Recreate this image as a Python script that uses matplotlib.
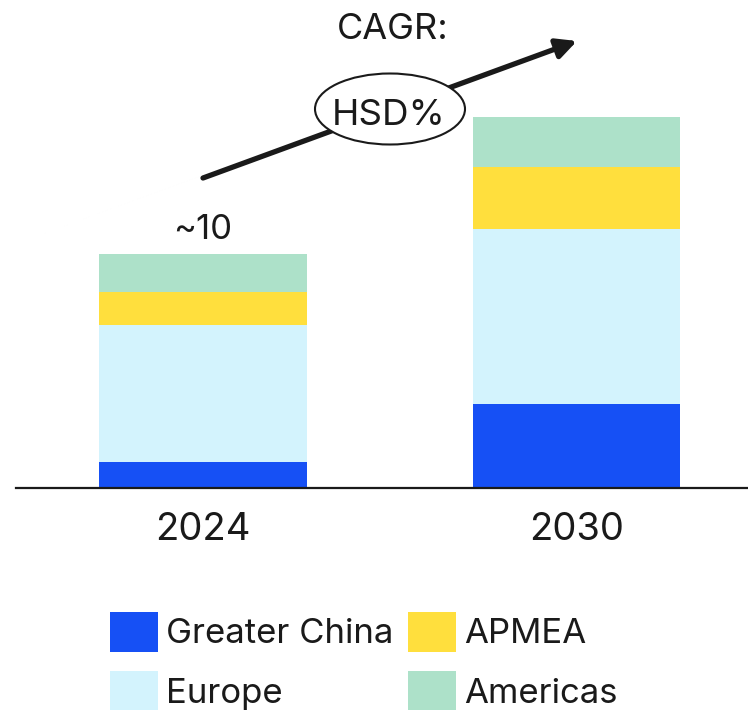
import matplotlib
matplotlib.use("Agg")
import matplotlib.pyplot as plt
from matplotlib.patches import Ellipse, Patch

plt.rcParams['font.family'] = ['Inter', 'DejaVu Sans']

years = ['2024', '2030']
regions = ['Greater China', 'Europe', 'APMEA', 'Americas']
greater_china = [1.11, 3.57]
europe = [5.85, 7.50]
apmea = [1.43, 2.67]
americas = [1.61, 2.11]
total_label = '~10'
cagr_label = 'HSD%'

colors = ['#1650f5', '#d3f3fd', '#ffdf3d', '#ade1c9']
ink = '#1a1a1a'

W, H = 748, 710
fig = plt.figure(figsize=(W / 100, H / 100), dpi=100)
ax = fig.add_axes([0, 0, 1, 1])


def px(x, y):
    # pixel (from top-left) to figure fraction
    return x / W, 1 - y / H


series = [greater_china, europe, apmea, americas]
xs = [0, 1]
bottom = [0.0, 0.0]
handles = []
for name, vals, c in zip(regions, series, colors):
    ax.bar(xs, vals, width=0.556, bottom=bottom, color=c, linewidth=0)
    bottom = [b + v for b, v in zip(bottom, vals)]
    handles.append(Patch(facecolor=c, edgecolor='none', label=name))

# axis scale: bar centres at 203px and 576.5px, baseline at 487.7px
ax.set_xlim(-0.5435, 1.459)
ax.set_ylim(-9.51, 20.87)
ax.axis('off')
ax.axhline(0, xmin=16 / W, xmax=1, color=ink, lw=1.6)

for x, yr in zip(xs, years):
    ax.text(x, -2.24, yr, ha='center', va='baseline', fontsize=27.5, color=ink)
ax.text(xs[0], bottom[0] + 0.63, total_label, ha='center', va='baseline',
        fontsize=25, color=ink)

# CAGR arrow
ax.annotate('', xy=px(577, 41), xytext=px(203, 178), xycoords='figure fraction',
            textcoords='figure fraction',
            arrowprops=dict(arrowstyle='-|>,head_length=1.2,head_width=0.6',
                            color=ink, lw=3.8, shrinkA=0, shrinkB=0))
ell = Ellipse(px(390, 109), 150 / W, 71 / H, transform=fig.transFigure,
              facecolor='white', edgecolor=ink, lw=1.5, zorder=5)
fig.patches.append(ell)
fig.text(*px(389, 125), cagr_label, ha='center', va='baseline', fontsize=26.5,
         color=ink, zorder=6)
fig.text(*px(393, 39), 'CAGR:', ha='center', va='baseline', fontsize=26,
         color=ink)

fig.legend(handles=handles, ncol=2, loc='upper left', bbox_to_anchor=px(96, 598),
           frameon=False, fontsize=25, handlelength=1.38, handleheight=1.4,
           handletextpad=0.25, columnspacing=0.4, labelspacing=0.55,
           labelcolor=ink, borderaxespad=0)

fig.savefig('out.png', dpi=100)
